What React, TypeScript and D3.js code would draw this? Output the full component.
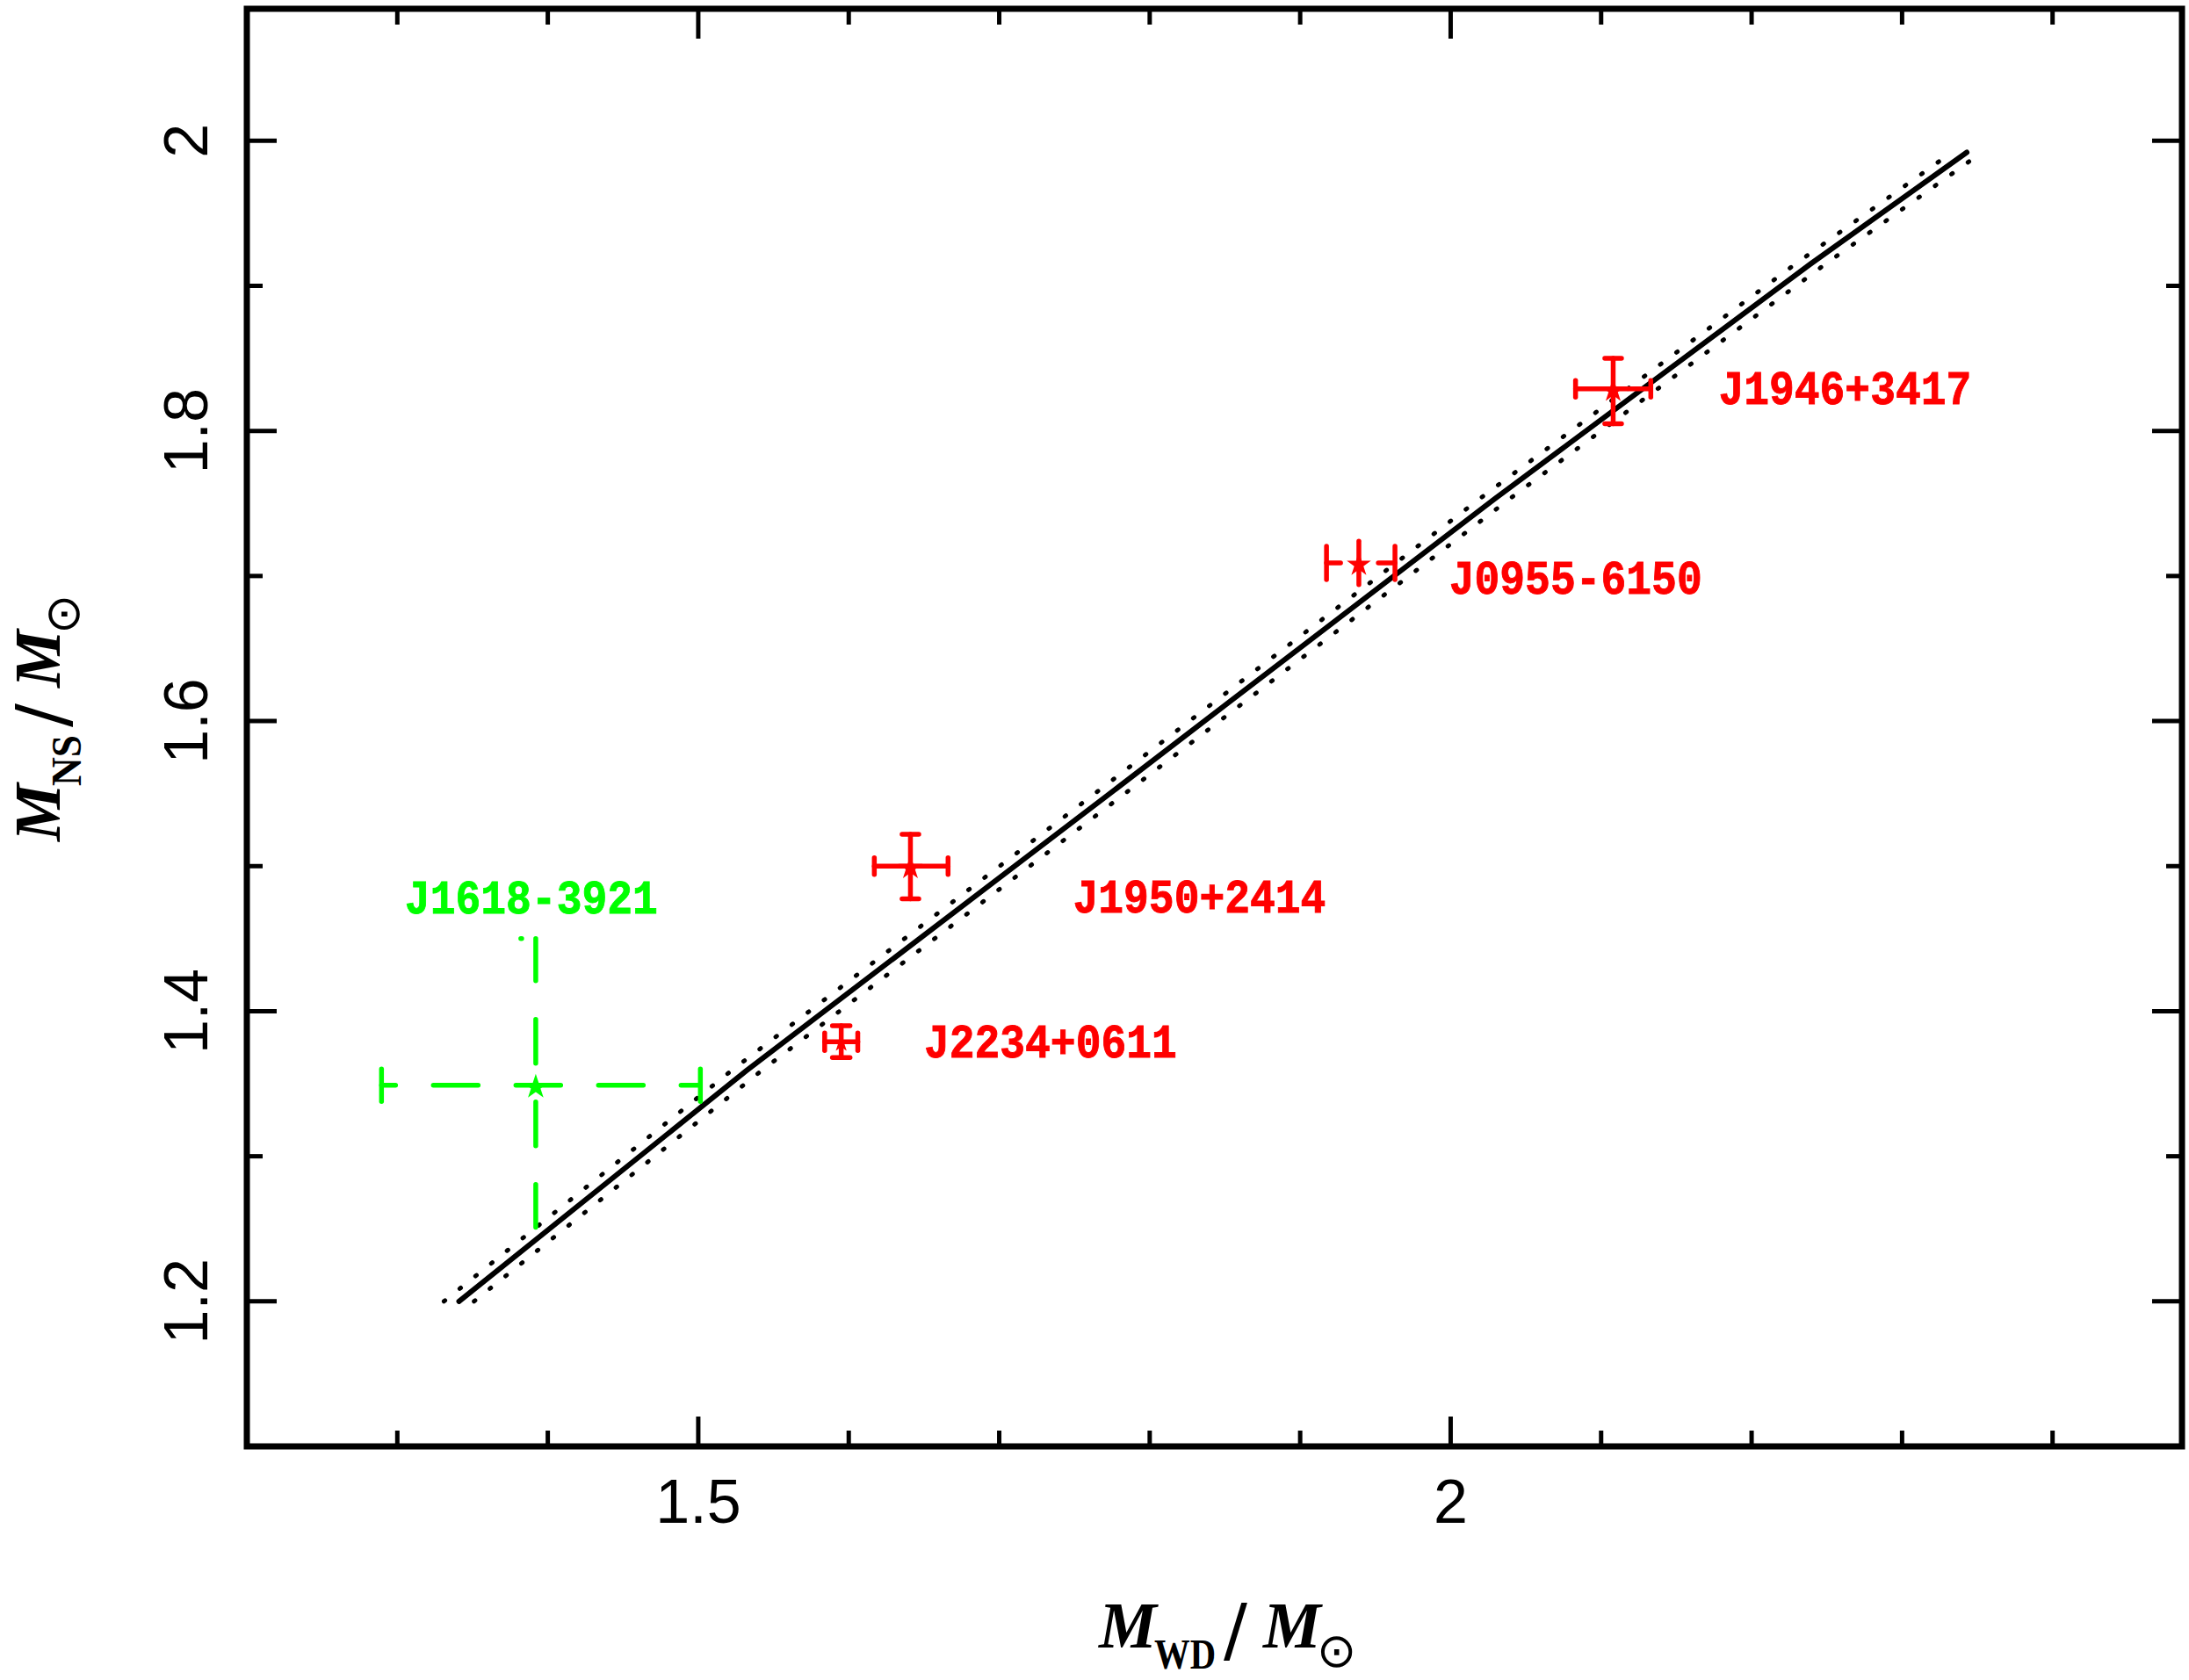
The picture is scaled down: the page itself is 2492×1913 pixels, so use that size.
import React from 'react';
import * as d3 from 'd3';

// axis ranges and ticks
const xDomain = [1.2, 2.486];
const yDomain = [1.1, 2.091];
const xMajorTicks = [1.5, 2.0];
const xMajorLabels = ['1.5', '2'];
const xMinorTicks = [1.3, 1.4, 1.6, 1.7, 1.8, 1.9, 2.1, 2.2, 2.3, 2.4];
const yMajorTicks = [1.2, 1.4, 1.6, 1.8, 2.0];
const yMajorLabels = ['1.2', '1.4', '1.6', '1.8', '2'];
const yMinorTicks = [1.3, 1.5, 1.7, 1.9];

// pulsars
const pulsars = ['J1946+3417', 'J0955-6150', 'J1950+2414', 'J2234+0611', 'J1618-3921'];
const mWD = [2.108, 1.939, 1.641, 1.595, 1.392];
const mWDlo = [2.083, 1.9175, 1.617, 1.584, 1.2895];
const mWDhi = [2.133, 1.963, 1.666, 1.606, 1.5014];
const mNS = [1.829, 1.709, 1.5, 1.379, 1.349];
const mNSlo = [1.805, 1.694, 1.4775, 1.368, 1.251];
const mNShi = [1.85, 1.724, 1.522, 1.39, 1.45];
const labelX = [2.178, 1.999, 1.749, 1.65, 1.305];
const labelY = [1.8185, 1.688, 1.468, 1.368, 1.4675];

// relation and its band
const relation = [[1.341, 1.2], [1.532, 1.359], [1.776, 1.552], [1.854, 1.614], [2.029, 1.753], [2.239, 1.915], [2.343, 1.992]];
const bandUpper = [[1.331, 1.2], [1.522, 1.359], [1.766, 1.552], [1.844, 1.614], [2.019, 1.753], [2.229, 1.915], [2.333, 1.992]];
const bandLower = [[1.351, 1.2], [1.542, 1.359], [1.786, 1.552], [1.864, 1.614], [2.039, 1.753], [2.249, 1.915], [2.353, 1.992]];

const W = 2492;
const H = 1913;
const box = { left: 281, right: 2484, top: 10, bottom: 1647 };

const RED = '#ff0000';
const GREEN = '#00ff00';

// per-pulsar drawing style
const styles: Record<string, any> = {
  'J1946+3417': { color: RED, hDash: null, vDash: null, hCap: 19, vCap: 19, vCapDash: null, star: 14.5 },
  'J0955-6150': { color: RED, hDash: ['51 43', 35], vDash: null, hCap: 38, vCap: 0, vCapDash: null, star: 14.5 },
  'J1950+2414': { color: RED, hDash: null, vDash: null, hCap: 19, vCap: 19, vCapDash: null, star: 14.5 },
  'J2234+0611': { color: RED, hDash: null, vDash: null, hCap: 20, vCap: 20, vCapDash: null, star: 10.5 },
  'J1618-3921': { color: GREEN, hDash: ['51 43', 35], vDash: ['50 44', 2], hCap: 37, vCap: 34, vCapDash: ['51 43', 50], star: 15 },
};

const x = d3.scaleLinear().domain(xDomain).range([box.left, box.right]);
const y = d3.scaleLinear().domain(yDomain).range([box.bottom, box.top]);
const line = d3.line<number[]>().x(d => x(d[0])).y(d => y(d[1]));
const starPath = (r: number) => d3.symbol(d3.symbolStar, (r * r) / 0.8908130915292852)() as string;

const serif = '"Liberation Serif", "DejaVu Serif", serif';
const sans = '"Liberation Sans", Arial, sans-serif';

const AxisTitle = ({ sub, subWidth, transform }: { sub: string; subWidth: number; transform: string }) => {
  const off = subWidth - 58;
  return (
    <g transform={transform}>
      <text x={0} y={0} fontFamily={serif} fontStyle="italic" fontWeight="bold" fontSize={74}>M</text>
      <text x={63} y={24} fontFamily={serif} fontWeight="bold" fontSize={48}
        textLength={subWidth} lengthAdjust="spacingAndGlyphs">{sub}</text>
      <text x={130 + off} y={8} fontFamily='"DejaVu Sans", sans-serif' fontSize={80}>/</text>
      <text x={175 + off} y={0} fontFamily={serif} fontStyle="italic" fontWeight="bold" fontSize={74}>M</text>
      <text x={236 + off} y={22} fontFamily='"DejaVu Sans", sans-serif' fontSize={54}>⊙</text>
    </g>
  );
};

const App: React.FC = () => {
  const majorLen = 34;
  const minorLen = 18;

  return (
    <svg width={W} height={H} viewBox={`0 0 ${W} ${H}`} style={{ position: 'absolute', left: 0, top: 0, background: '#fff' }}>
      <rect width={W} height={H} fill="#fff" />

      {/* relation and band */}
      <path d={line(bandUpper) as string} fill="none" stroke="#000" strokeWidth={5} strokeDasharray="1.5 21.5" strokeLinecap="round" />
      <path d={line(bandLower) as string} fill="none" stroke="#000" strokeWidth={5} strokeDasharray="1.5 21.5" strokeLinecap="round" />
      <path d={line(relation) as string} fill="none" stroke="#000" strokeWidth={6} strokeLinecap="round" />

      {/* pulsars */}
      {pulsars.map((name, i) => {
        const s = styles[name];
        const cx = x(mWD[i]);
        const cy = y(mNS[i]);
        const x0 = x(mWDlo[i]);
        const x1 = x(mWDhi[i]);
        const y0 = y(mNShi[i]);
        const y1 = y(mNSlo[i]);
        return (
          <g key={name} stroke={s.color} strokeWidth={5.5} strokeLinecap="round" fill="none">
            <line x1={x0} x2={x1} y1={cy} y2={cy}
              strokeDasharray={s.hDash ? s.hDash[0] : undefined} strokeDashoffset={s.hDash ? s.hDash[1] : undefined} />
            <line x1={x0} x2={x0} y1={cy - s.hCap / 2} y2={cy + s.hCap / 2} />
            <line x1={x1} x2={x1} y1={cy - s.hCap / 2} y2={cy + s.hCap / 2} />
            <line x1={cx} x2={cx} y1={y0} y2={y1}
              strokeDasharray={s.vDash ? s.vDash[0] : undefined} strokeDashoffset={s.vDash ? s.vDash[1] : undefined} />
            {s.vCap > 0 && (
              <>
                <line x1={cx - s.vCap / 2} x2={cx + s.vCap / 2} y1={y0} y2={y0}
                  strokeDasharray={s.vCapDash ? s.vCapDash[0] : undefined} strokeDashoffset={s.vCapDash ? s.vCapDash[1] : undefined} />
                {!s.vCapDash && <line x1={cx - s.vCap / 2} x2={cx + s.vCap / 2} y1={y1} y2={y1} />}
              </>
            )}
            <path d={starPath(s.star)} transform={`translate(${cx},${cy + 2})`} fill={s.color} stroke="none" />
            <text transform={`translate(${x(labelX[i])},${y(labelY[i])}) scale(1,1.1)`} fill={s.color} stroke={s.color}
              strokeWidth={0.8} fontFamily='"Liberation Mono", "DejaVu Sans Mono", monospace' fontWeight="bold" fontSize={48}>
              {name}
            </text>
          </g>
        );
      })}

      {/* frame and ticks */}
      <g stroke="#000" strokeWidth={5} strokeLinecap="butt">
        {xMajorTicks.concat(xMinorTicks).map((t, i) => {
          const len = i < xMajorTicks.length ? majorLen : minorLen;
          return (
            <g key={'xt' + t}>
              <line x1={x(t)} x2={x(t)} y1={box.bottom} y2={box.bottom - len} />
              <line x1={x(t)} x2={x(t)} y1={box.top} y2={box.top + len} />
            </g>
          );
        })}
        {yMajorTicks.concat(yMinorTicks).map((t, i) => {
          const len = i < yMajorTicks.length ? majorLen : minorLen;
          return (
            <g key={'yt' + t}>
              <line x1={box.left} x2={box.left + len} y1={y(t)} y2={y(t)} />
              <line x1={box.right} x2={box.right - len} y1={y(t)} y2={y(t)} />
            </g>
          );
        })}
      </g>
      <rect x={box.left} y={box.top} width={box.right - box.left} height={box.bottom - box.top}
        fill="none" stroke="#000" strokeWidth={7} />

      {/* tick labels */}
      {xMajorTicks.map((t, i) => (
        <text key={'xl' + t} x={x(t)} y={1734} textAnchor="middle" fontFamily={sans} fontSize={70}>{xMajorLabels[i]}</text>
      ))}
      {yMajorTicks.map((t, i) => (
        <text key={'yl' + t} transform={`translate(236,${y(t)}) rotate(-90)`} textAnchor="middle" fontFamily={sans} fontSize={70}>
          {yMajorLabels[i]}
        </text>
      ))}

      {/* axis titles */}
      <AxisTitle sub="WD" subWidth={70} transform="translate(1251,1876)" />
      <AxisTitle sub="NS" subWidth={58} transform="translate(68,958) rotate(-90)" />
    </svg>
  );
};

export default App;
